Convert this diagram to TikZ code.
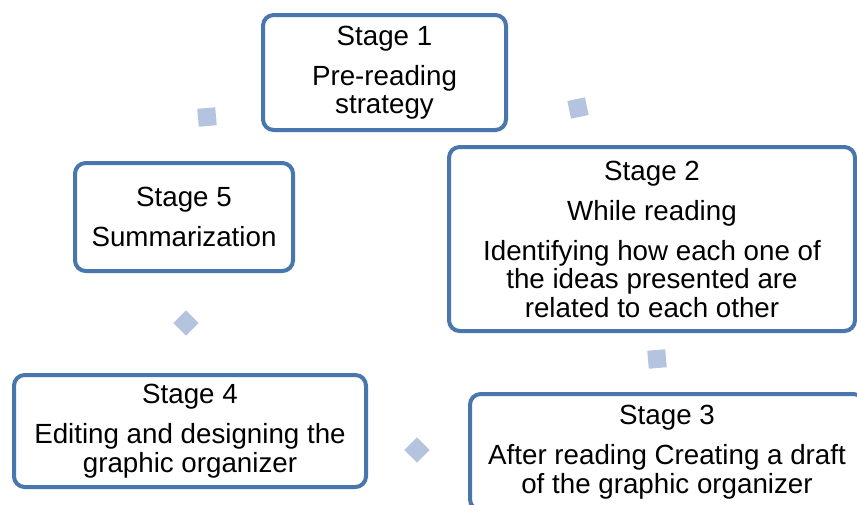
\documentclass[tikz,border=0pt]{standalone}
\usepackage{fontspec}
\setmainfont{Liberation Sans}
\definecolor{stageblue}{HTML}{4A76AE}
\definecolor{markblue}{HTML}{B4C4DF}
\begin{document}
\begin{tikzpicture}[x=0.75pt,y=-0.75pt,
  stagebox/.style={draw=stageblue,line width=3pt,rounded corners=8pt,fill=white,
    align=center,inner sep=0pt,font=\fontsize{20.8}{21.4}\selectfont},
  marker/.style={fill=markblue,minimum size=13.5pt,inner sep=0pt}]

\path[use as bounding box,clip] (0,0) rectangle (857,504);
\fill[white] (0,0) rectangle (857,504);

\node[stagebox,minimum width=182.25pt,minimum height=86.25pt] (st1) at (384.5,72.5)
  {Stage 1\\[8.6pt]Pre-reading\\strategy};
\node[stagebox,minimum width=304.5pt,minimum height=138pt] (st2) at (652,239)
  {Stage 2\\[8.6pt]While reading\\[8.6pt]Identifying how each one of\\the ideas presented are\\related to each other};
\node[stagebox,minimum width=295.5pt,minimum height=87pt] (st3) at (667,452)
  {Stage 3\\[8.6pt]After reading Creating a draft\\of the graphic organizer};
\node[stagebox,minimum width=264pt,minimum height=84pt] (st4) at (190,431)
  {Stage 4\\[8.6pt]Editing and designing the\\graphic organizer};
\node[stagebox,minimum width=163.5pt,minimum height=81pt] (st5) at (184,217)
  {Stage 5\\[8.6pt]Summarization};

\node[marker,rotate=12] (m12) at (578,108) {};
\node[marker,rotate=5] (m23) at (657,359) {};
\node[marker,rotate=45] (m34) at (417,450) {};
\node[marker,rotate=45] (m45) at (186,323) {};
\node[marker,rotate=5] (m51) at (207,117) {};
\end{tikzpicture}
\end{document}
